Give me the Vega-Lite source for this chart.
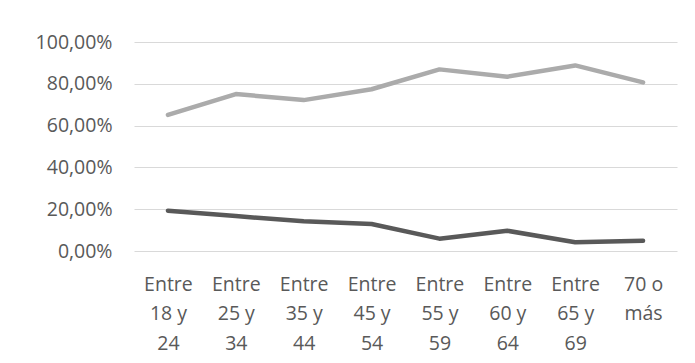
{
  "$schema": "https://vega.github.io/schema/vega-lite/v6.json",
  "width": 543,
  "height": 209,
  "autosize": {"type": "none"},
  "padding": {"left": 134, "top": 42, "right": 18, "bottom": 112},
  "background": "white",
  "config": {
    "view": {"stroke": null},
    "font": "Open Sans",
    "axis": {"labelFont": "Open Sans", "labelFontSize": 19.5, "labelColor": "#595959"}
  },
  "data": {
    "values": [
      {"edad": "Entre 18 y 24", "serie": "Serie 1", "valor": 0.651},
      {"edad": "Entre 25 y 34", "serie": "Serie 1", "valor": 0.751},
      {"edad": "Entre 35 y 44", "serie": "Serie 1", "valor": 0.722},
      {"edad": "Entre 45 y 54", "serie": "Serie 1", "valor": 0.774},
      {"edad": "Entre 55 y 59", "serie": "Serie 1", "valor": 0.869},
      {"edad": "Entre 60 y 64", "serie": "Serie 1", "valor": 0.834},
      {"edad": "Entre 65 y 69", "serie": "Serie 1", "valor": 0.888},
      {"edad": "70 o más", "serie": "Serie 1", "valor": 0.807},
      {"edad": "Entre 18 y 24", "serie": "Serie 2", "valor": 0.193},
      {"edad": "Entre 25 y 34", "serie": "Serie 2", "valor": 0.167},
      {"edad": "Entre 35 y 44", "serie": "Serie 2", "valor": 0.142},
      {"edad": "Entre 45 y 54", "serie": "Serie 2", "valor": 0.129},
      {"edad": "Entre 55 y 59", "serie": "Serie 2", "valor": 0.059},
      {"edad": "Entre 60 y 64", "serie": "Serie 2", "valor": 0.097},
      {"edad": "Entre 65 y 69", "serie": "Serie 2", "valor": 0.042},
      {"edad": "70 o más", "serie": "Serie 2", "valor": 0.049}
    ]
  },
  "mark": {"type": "line", "strokeWidth": 4.5, "strokeCap": "round", "strokeJoin": "round"},
  "encoding": {
    "x": {
      "field": "edad",
      "type": "nominal",
      "sort": null,
      "scale": {"type": "point", "padding": 0.5},
      "axis": {
        "title": null,
        "domain": false,
        "ticks": false,
        "grid": false,
        "labelAngle": 0,
        "labelPadding": 24,
        "labelLineHeight": 29.5,
        "labelBaseline": "top",
        "labelExpr": "datum.value == '70 o más' ? ['70 o', 'más'] : ['Entre', slice(datum.value, 6, 10), slice(datum.value, 11)]"
      }
    },
    "y": {
      "field": "valor",
      "type": "quantitative",
      "scale": {"domain": [0, 1], "nice": false},
      "axis": {
        "title": null,
        "domain": false,
        "ticks": false,
        "values": [0, 0.2, 0.4, 0.6, 0.8, 1],
        "gridColor": "#D9D9D9",
        "gridWidth": 1.2,
        "labelPadding": 22,
        "labelExpr": "replace(format(datum.value, '.2%'), '.', ',')"
      }
    },
    "color": {
      "field": "serie",
      "type": "nominal",
      "scale": {"domain": ["Serie 1", "Serie 2"], "range": ["#ABABAB", "#595959"]},
      "legend": null
    }
  }
}
